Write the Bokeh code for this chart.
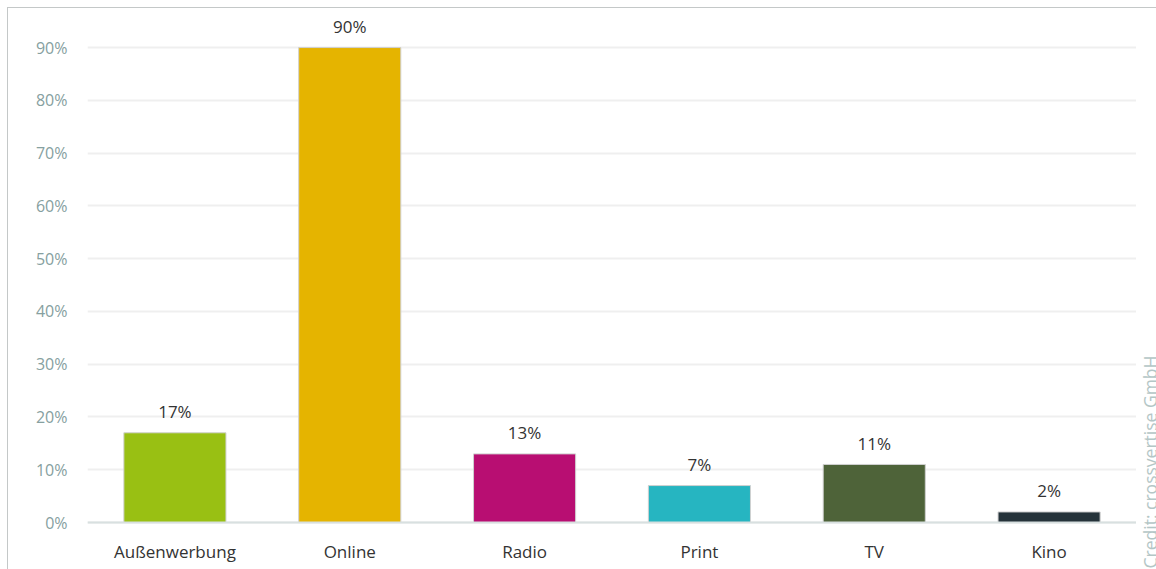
import math
from bokeh.plotting import figure
from bokeh.layouts import row
from bokeh.models import (ColumnDataSource, FactorRange, Range1d, FixedTicker,
                          CustomJSTickFormatter, Span, Label)
from bokeh.core.properties import value
from bokeh.embed import file_html
from bokeh.resources import INLINE

categories = ["Außenwerbung", "Online", "Radio", "Print", "TV", "Kino"]
shares = [17, 90, 13, 7, 11, 2]
colors = ["#99C013", "#E5B400", "#B80E72", "#26B5C1", "#4E6339", "#25333A"]
labels = [f"{v}%" for v in shares]
y_ticks = [0, 10, 20, 30, 40, 50, 60, 70, 80, 90]
credit_text = "Credit: crossvertise GmbH"

src = ColumnDataSource(dict(cat=categories, val=shares, col=colors, lab=labels,
                            base=[0] * len(categories)))

FONT = "Open Sans"

p = figure(
    x_range=FactorRange(*categories, range_padding=0),
    y_range=Range1d(-8.905, 97.4),
    width=1128, height=561,
    output_backend="svg", toolbar_location=None,
    min_border_left=79, min_border_right=0, min_border_top=0, min_border_bottom=0,
)
p.outline_line_color = None
p.background_fill_color = "white"
p.border_fill_color = "white"

p.ygrid.grid_line_color = "#efefef"
p.ygrid.grid_line_width = 2
p.xgrid.grid_line_color = None

# baseline (x axis line)
p.add_layout(Span(location=0, dimension="width", line_color="#d8e0e0", line_width=2))

p.vbar(x="cat", top="val", bottom="base", width=0.584, source=src, fill_color="col",
       line_color="#d0d0d0", line_width=1)

# value labels above bars
p.text(x="cat", y="val", text="lab", source=src, text_align="center",
       text_baseline="middle", y_offset=-21, text_color="#333333",
       text_font=value(FONT), text_font_size="17px")

# category labels under the baseline
p.text(x="cat", y="base", text="cat", source=src, text_align="center",
       text_baseline="middle", y_offset=29, text_color="#333333",
       text_font=value(FONT), text_font_size="17px")

p.xaxis.visible = False

# y axis
p.yaxis.ticker = FixedTicker(ticks=y_ticks)
p.yaxis.formatter = CustomJSTickFormatter(code="return tick + '%';")
p.yaxis.axis_line_color = None
p.yaxis.major_tick_line_color = None
p.yaxis.minor_tick_line_color = None
p.yaxis.major_tick_out = 0
p.yaxis.major_tick_in = 0
p.yaxis.major_label_standoff = 20
p.yaxis.major_label_text_color = "#86a0a0"
p.yaxis.major_label_text_font = FONT
p.yaxis.major_label_text_font_size = "16px"

# narrow strip on the right holding the vertical credit
cf = figure(
    width=20, height=561, x_range=Range1d(0, 20), y_range=p.y_range,
    output_backend="svg", toolbar_location=None,
    x_axis_location=None, y_axis_location=None,
    min_border_left=0, min_border_right=0, min_border_top=0, min_border_bottom=0,
)
cf.grid.visible = False
cf.outline_line_color = None
cf.background_fill_color = "white"
cf.border_fill_color = "white"
cf.add_layout(Label(x=13, y=-8.7, text=credit_text, angle=math.pi / 2,
                    text_align="left", text_baseline="middle",
                    text_color="#b4c6c6", text_font=FONT, text_font_size="17.5px"))

layout = row(p, cf, spacing=0)
layout.styles = {"margin-left": "7px", "margin-top": "7px",
                 "border-top": "1px solid #c4c8c8", "border-left": "1px solid #c4c8c8"}

open("out.html", "w").write(file_html(layout, INLINE))
